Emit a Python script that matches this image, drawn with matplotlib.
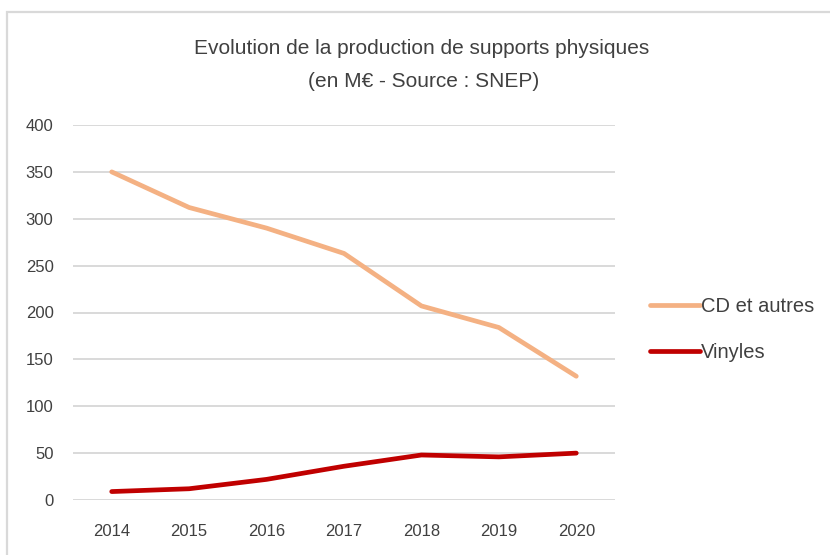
import matplotlib
matplotlib.use('Agg')
import matplotlib.pyplot as plt
from matplotlib.patches import Rectangle

years = ["2014", "2015", "2016", "2017", "2018", "2019", "2020"]
cd_autres = [350, 312, 290, 263, 207, 184, 132]
vinyles = [9, 12, 22, 36, 48, 46, 50]
y_ticks = [0, 50, 100, 150, 200, 250, 300, 350, 400]

plt.rcParams['font.family'] = ['Liberation Sans Narrow', 'Liberation Sans', 'DejaVu Sans']

W, H = 830, 555
fig = plt.figure(figsize=(W / 100, H / 100), dpi=100)
ax = fig.add_axes([73 / W, 1 - 500 / H, (615 - 73) / W, (500 - 125) / H])

x = list(range(len(years)))
ax.plot(x, cd_autres, color='#F4B183', lw=3.4, solid_capstyle='round',
        solid_joinstyle='round', label='CD et autres', zorder=3)
ax.plot(x, vinyles, color='#C00000', lw=3.4, solid_capstyle='round',
        solid_joinstyle='round', label='Vinyles', zorder=3)

ax.set_xlim(-0.5, len(years) - 0.5)
ax.set_ylim(0, 400)
ax.set_xticks(x)
ax.set_xticklabels(years)
ax.set_yticks(y_ticks)
ax.yaxis.grid(True, color='#D9D9D9', lw=1.4)
ax.set_axisbelow(True)
for s in ax.spines.values():
    s.set_visible(False)
ax.tick_params(axis='both', length=0, labelsize=12, colors='#404040')
ax.tick_params(axis='x', pad=17)
ax.tick_params(axis='y', pad=14)

fig.text(422 / W, 1 - 49 / H, "Evolution de la production de supports physiques",
         ha='center', va='center', fontsize=15, color='#404040')
fig.text(424 / W, 1 - 81 / H, "(en M\u20ac - Source : SNEP)",
         ha='center', va='center', fontsize=15, color='#404040')

leg = fig.legend(loc='upper left', bbox_to_anchor=(650 / W, 1 - 297 / H),
                 frameon=False, fontsize=14.5, handlelength=2.5, handletextpad=0.05,
                 labelspacing=1.35, borderpad=0, borderaxespad=0, labelcolor='#404040')

# light gray outer frame (only top/left visible in the crop)
fig.add_artist(Rectangle((7 / W, -0.1), 1.2, 1 - 12 / H + 0.1, transform=fig.transFigure,
                         fill=False, edgecolor='#D9D9D9', lw=1.6))

fig.savefig('out.png', dpi=100)
